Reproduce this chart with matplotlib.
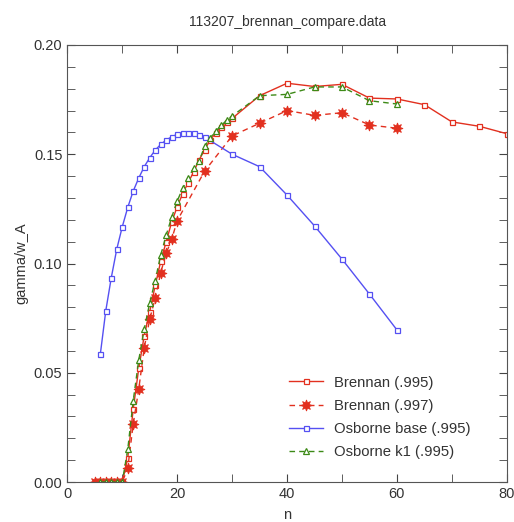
import matplotlib
matplotlib.use("Agg")
import matplotlib.pyplot as plt
from matplotlib.ticker import MultipleLocator

plt.rcParams['font.family'] = ['Liberation Sans', 'DejaVu Sans']

# Brennan (.995)
n_b995 = list(range(5, 31)) + [35, 40, 45, 50, 55, 60, 65, 70, 75, 80]
g_b995 = [0, 0, 0, 0, 0, 0,
          0.011, 0.0335, 0.052, 0.067, 0.078, 0.090, 0.101, 0.110, 0.119, 0.126,
          0.132, 0.137, 0.142, 0.1475, 0.152, 0.1565, 0.1597, 0.1626, 0.1649, 0.1664,
          0.1768, 0.1825, 0.181, 0.182, 0.1757, 0.1753, 0.1727, 0.1648, 0.1628, 0.1594]

# Brennan (.997)
n_b997 = list(range(5, 21)) + [25, 30, 35, 40, 45, 50, 55, 60]
g_b997 = [0, 0, 0, 0, 0, 0,
          0.0063, 0.0267, 0.0425, 0.0614, 0.0746, 0.0841, 0.0958, 0.1047, 0.1111, 0.1196,
          0.1423, 0.1584, 0.1642, 0.170, 0.1678, 0.169, 0.1634, 0.1619]

# Osborne base (.995)
n_ob = list(range(6, 26)) + [30, 35, 40, 45, 50, 55, 60]
g_ob = [0.0584, 0.0784, 0.0935, 0.1066, 0.1168, 0.1257, 0.1332, 0.1391, 0.1443, 0.1484,
        0.1519, 0.1545, 0.1565, 0.158, 0.1591, 0.1596, 0.1597, 0.1596, 0.159, 0.1578,
        0.150, 0.1443, 0.1313, 0.1172, 0.102, 0.086, 0.0696]

# Osborne k1 (.995)
n_ok1 = list(range(6, 31)) + [35, 40, 45, 50, 55, 60]
g_ok1 = [0, 0, 0, 0, 0,
         0.015, 0.0373, 0.0558, 0.070, 0.082, 0.0922, 0.1039, 0.113, 0.1212, 0.1286,
         0.1344, 0.1393, 0.1436, 0.147, 0.1536, 0.1575, 0.1605, 0.1632, 0.1655, 0.1675,
         0.1768, 0.1774, 0.1808, 0.1808, 0.1745, 0.173]

red = "#e2301f"
blue = "#5550f2"
green = "#3d8a17"

fig = plt.figure(figsize=(5.14, 5.22), dpi=100)
ax = fig.add_axes([0.131, 0.0766, 0.855, 0.8372])

ax.plot(n_b995, g_b995, color=red, lw=1, marker="s", ms=3.6, mfc="white",
        mec=red, mew=0.9, label="Brennan (.995)")
# 8-pointed burst marker, like the asterisk in the original
ax.plot(n_b997, g_b997, color=red, lw=1, ls=(0, (4, 3)), marker=(8, 1, 0), ms=8,
        mec=red, mfc=red, mew=0.6, label="Brennan (.997)")
ax.plot(n_ob, g_ob, color=blue, lw=1, marker="s", ms=3.6, mfc="white",
        mec=blue, mew=0.9, label="Osborne base (.995)")
ax.plot(n_ok1, g_ok1, color=green, lw=1, ls=(0, (4, 3)), marker="^", ms=3.8,
        mfc="white", mec=green, mew=0.9, label="Osborne k1 (.995)")

ax.set_xlim(0, 80)
ax.set_ylim(0, 0.20)
ax.xaxis.set_major_locator(MultipleLocator(20))
ax.xaxis.set_minor_locator(MultipleLocator(10))
ax.yaxis.set_major_locator(MultipleLocator(0.05))
ax.yaxis.set_minor_locator(MultipleLocator(0.01))
ax.yaxis.set_major_formatter(plt.FormatStrFormatter("%.2f"))
ax.tick_params(which="both", direction="in", top=True, right=True,
               colors="#444444", labelcolor="#333333", labelsize=10.5)
ax.tick_params(which="both", length=6)
for s in ax.spines.values():
    s.set_color("#555555")

ax.set_title("113207_brennan_compare.data", fontsize=10, color="#333333", pad=14)
ax.set_xlabel("n", fontsize=10.5, color="#333333", labelpad=5)
ax.set_ylabel("gamma/w_A", fontsize=10.5, color="#333333", labelpad=4)

leg = ax.legend(loc="lower left", bbox_to_anchor=(0.505, 0.052), frameon=False,
                fontsize=10.7, handlelength=2.3, labelspacing=0.62, handletextpad=0.7,
                borderpad=0, borderaxespad=0)
for t in leg.get_texts():
    t.set_color("#333333")

fig.savefig("out.png", dpi=100)
